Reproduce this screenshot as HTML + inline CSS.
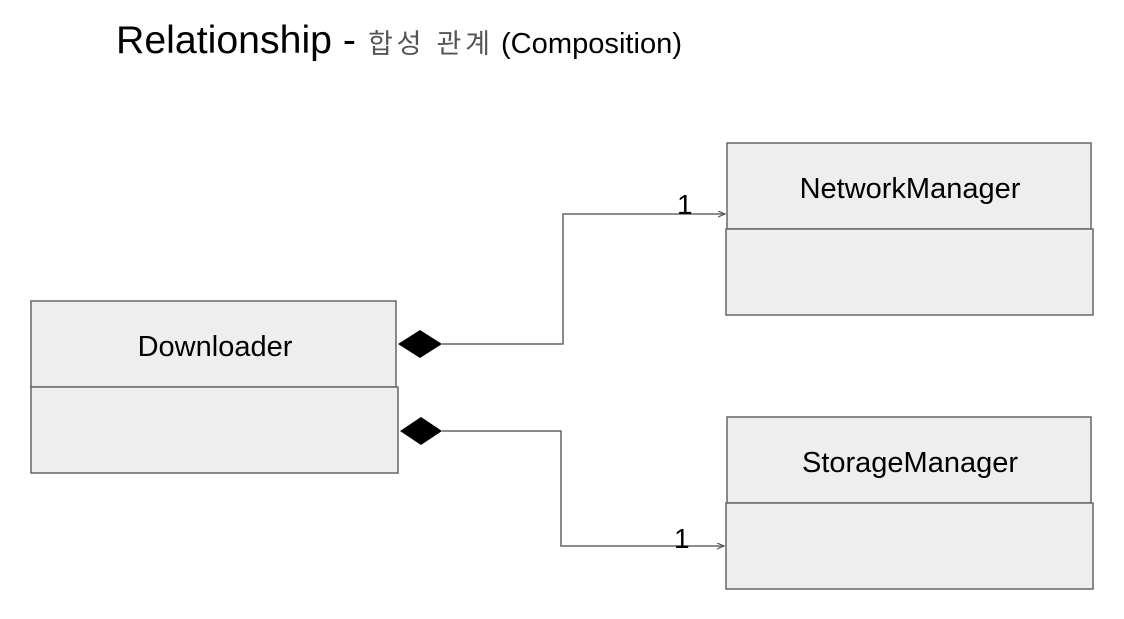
<!DOCTYPE html>
<html><head><meta charset="utf-8"><style>
html,body{margin:0;padding:0;background:#fff;}
svg{display:block;}
</style></head><body>
<svg width="1124" height="619" viewBox="0 0 1124 619" xmlns="http://www.w3.org/2000/svg" font-family="Liberation Sans, Arial, sans-serif">
<defs>
<marker id="ar" markerWidth="8" markerHeight="8" refX="7" refY="3" orient="auto" markerUnits="userSpaceOnUse">
<path d="M0,0 L7,3 L0,6" fill="none" stroke="#555" stroke-width="1.2"/>
</marker>
</defs>
<text x="116" y="53" font-size="39" fill="#000" textLength="240" lengthAdjust="spacingAndGlyphs">Relationship -</text>
<text x="368" y="53" font-size="27" fill="#555" font-family="Liberation Sans, 'Noto Sans CJK KR', NanumGothic, sans-serif" textLength="122" lengthAdjust="spacing">합성 관계</text>
<text x="501" y="53" font-size="29" fill="#000" textLength="181" lengthAdjust="spacingAndGlyphs">(Composition)</text>

<g fill="#eeeeee" stroke="#666" stroke-width="1.5">
<rect x="31" y="301" width="365" height="86"/>
<rect x="31" y="387" width="367" height="86"/>
<rect x="727" y="143" width="364" height="86"/>
<rect x="726" y="229" width="367" height="86"/>
<rect x="727" y="417" width="364" height="86"/>
<rect x="726" y="503" width="367" height="86"/>
</g>
<g font-size="29" fill="#000" text-anchor="middle">
<text x="215" y="356">Downloader</text>
<text x="910" y="198">NetworkManager</text>
<text x="910" y="472">StorageManager</text>
</g>
<g fill="none" stroke="#666" stroke-width="1.5">
<polyline points="442,344 563,344 563,214 725,214" marker-end="url(#ar)"/>
<polyline points="442,431 561,431 561,546 724,546" marker-end="url(#ar)"/>
</g>
<polygon points="398,344 420,330 442,344 420,358" fill="#000"/>
<polygon points="400,431 421,417 442,431 421,445" fill="#000"/>
<g font-size="28" fill="#000">
<text x="677" y="214">1</text>
<text x="674" y="548">1</text>
</g>
</svg>
</body></html>
